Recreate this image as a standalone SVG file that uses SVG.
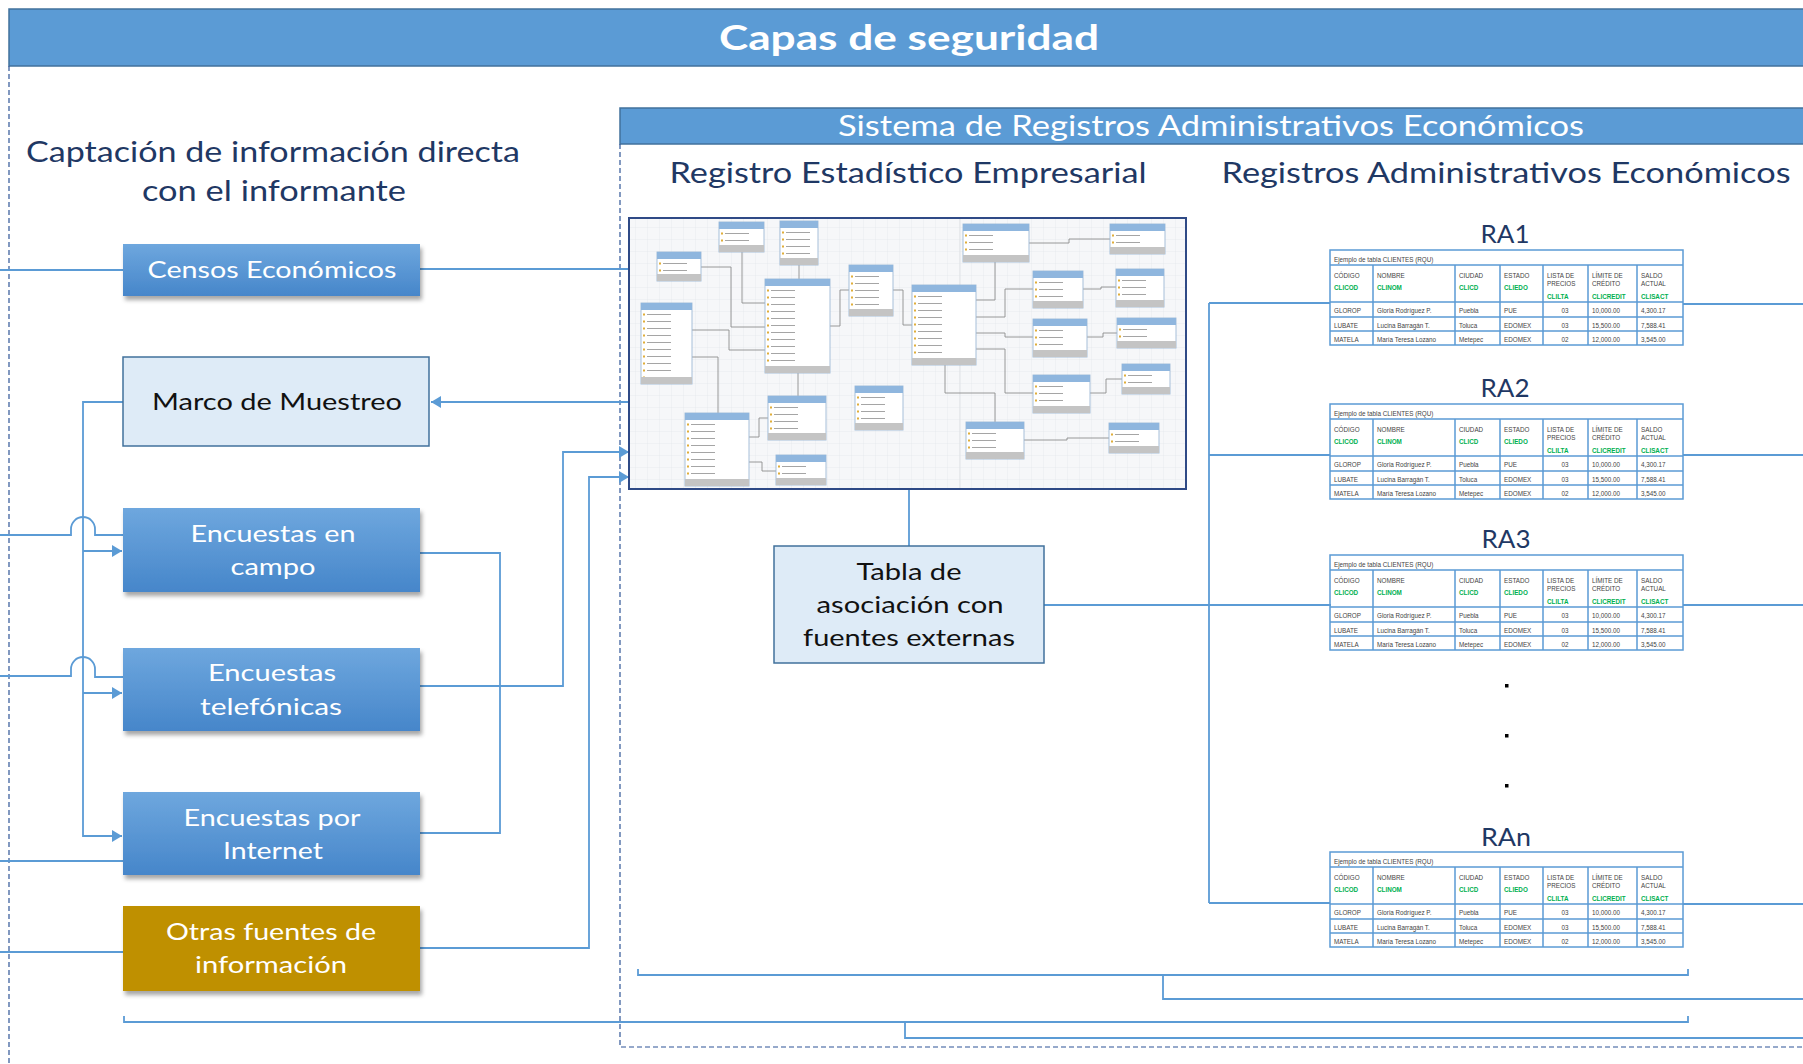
<svg xmlns="http://www.w3.org/2000/svg" xmlns:xlink="http://www.w3.org/1999/xlink" width="1803" height="1064" viewBox="0 0 1803 1064">
<defs>
<style>
.t{font-family:Lato,"Open Sans","Liberation Sans",sans-serif}
.head{fill:#1F3864;font-size:28px}
.wt{fill:#fff;font-size:23px;text-anchor:middle}
.bk{fill:#111;font-size:24px;text-anchor:middle}
.ra{fill:#1F3864;font-size:25px;text-anchor:middle}
.con{fill:none;stroke:#5B9BD5;stroke-width:1.8}
.blue{fill:url(#gb);filter:url(#sh)}
.light{fill:#DEEBF7;stroke:#41719C;stroke-width:1.5}
.erb{fill:#fff;stroke:#9DB8D6;stroke-width:0.9}
.erh{fill:#8FB6DE}
.erf{fill:#C4C4C4}
.rel{fill:none;stroke:#8C8C8C;stroke-width:0.9}
.tb{fill:none;stroke:#5B9BD5;stroke-width:1.5}
.tt{font-family:"Liberation Sans",Arial,sans-serif;font-size:6.3px;fill:#444}
.tg{font-family:"Liberation Sans",Arial,sans-serif;font-size:6.3px;fill:#00B050;font-weight:bold}
</style>
<linearGradient id="gb" x1="0" y1="0" x2="0" y2="1">
<stop offset="0" stop-color="#6EA7DE"/>
<stop offset="1" stop-color="#4686CA"/>
</linearGradient>
<filter id="sh" x="-10%" y="-10%" width="125%" height="140%">
<feDropShadow dx="2" dy="4" stdDeviation="2" flood-color="#000" flood-opacity="0.35"/>
</filter>
<marker id="arr" markerUnits="userSpaceOnUse" markerWidth="11" markerHeight="12" refX="10" refY="6" orient="auto">
<path d="M0,0 L10,6 L0,12 z" fill="#5B9BD5"/>
</marker>
<pattern id="grid" patternUnits="userSpaceOnUse" width="12" height="12">
<path d="M12,0 V12 H0" fill="none" stroke="#E4E7EB" stroke-width="0.7"/>
</pattern>
<pattern id="rows" patternUnits="userSpaceOnUse" width="200" height="7" y="1">
<rect x="2" y="2.5" width="2" height="2" fill="#E0AE3A"/>
<line x1="6" y1="3.5" x2="30" y2="3.5" stroke="#A5A5A5" stroke-width="1"/>
</pattern>
<g id="tbl">
<rect class="tb" x="1330" y="250" width="353" height="95"/>
<path class="tb" d="M1330,265 H1683 M1330,302 H1683 M1330,317 H1683 M1330,331 H1683 M1373,265 V345 M1455,265 V345 M1500,265 V345 M1543,265 V345 M1588,265 V345 M1637,265 V345"/>
<text class="tt" x="1334" y="262">Ejemplo de tabla CLIENTES (RQU)</text>
<text class="tt" x="1334" y="278">CÓDIGO</text>
<text class="tt" x="1377" y="278">NOMBRE</text>
<text class="tt" x="1459" y="278">CIUDAD</text>
<text class="tt" x="1504" y="278">ESTADO</text>
<text class="tt" x="1547" y="278">LISTA DE</text>
<text class="tt" x="1547" y="286">PRECIOS</text>
<text class="tt" x="1592" y="278">LÍMITE DE</text>
<text class="tt" x="1592" y="286">CRÉDITO</text>
<text class="tt" x="1641" y="278">SALDO</text>
<text class="tt" x="1641" y="286">ACTUAL</text>
<text class="tg" x="1334" y="290">CLICOD</text>
<text class="tg" x="1377" y="290">CLINOM</text>
<text class="tg" x="1459" y="290">CLICD</text>
<text class="tg" x="1504" y="290">CLIEDO</text>
<text class="tg" x="1547" y="299">CLILTA</text>
<text class="tg" x="1592" y="299">CLICREDIT</text>
<text class="tg" x="1641" y="299">CLISACT</text>
<text class="tt" x="1334" y="313">GLOROP</text>
<text class="tt" x="1377" y="313">Gloria Rodríguez P.</text>
<text class="tt" x="1459" y="313">Puebla</text>
<text class="tt" x="1504" y="313">PUE</text>
<text class="tt" x="1565" y="313" text-anchor="middle">03</text>
<text class="tt" x="1592" y="313">10,000.00</text>
<text class="tt" x="1641" y="313">4,300.17</text>
<text class="tt" x="1334" y="328">LUBATE</text>
<text class="tt" x="1377" y="328">Lucina Barragán T.</text>
<text class="tt" x="1459" y="328">Toluca</text>
<text class="tt" x="1504" y="328">EDOMEX</text>
<text class="tt" x="1565" y="328" text-anchor="middle">03</text>
<text class="tt" x="1592" y="328">15,500.00</text>
<text class="tt" x="1641" y="328">7,588.41</text>
<text class="tt" x="1334" y="342">MATELA</text>
<text class="tt" x="1377" y="342">María Teresa Lozano</text>
<text class="tt" x="1459" y="342">Metepec</text>
<text class="tt" x="1504" y="342">EDOMEX</text>
<text class="tt" x="1565" y="342" text-anchor="middle">02</text>
<text class="tt" x="1592" y="342">12,000.00</text>
<text class="tt" x="1641" y="342">3,545.00</text>
</g>
</defs>

<rect width="1803" height="1064" fill="#fff"/>

<g id="frame">
<rect x="9" y="9" width="1800" height="57" fill="#5B9BD5" stroke="#41719C" stroke-width="1.5"/>
<text class="t" x="909" y="50" fill="#fff" font-size="35" font-weight="bold" text-anchor="middle" textLength="380" lengthAdjust="spacingAndGlyphs">Capas de seguridad</text>
<line x1="9" y1="66" x2="9" y2="1064" stroke="#2F5597" stroke-width="1.2" stroke-dasharray="5,3"/>
<rect x="620" y="108" width="1190" height="36" fill="#5B9BD5" stroke="#41719C" stroke-width="1.5"/>
<text class="t" x="1211" y="136" fill="#fff" font-size="28" text-anchor="middle" textLength="746" lengthAdjust="spacingAndGlyphs">Sistema de Registros Administrativos Económicos</text>
<path d="M620,144 V1047 H1803" fill="none" stroke="#2F5597" stroke-width="1.2" stroke-dasharray="5,3"/>
</g>

<g id="headings">
<text class="t head" x="273" y="162" text-anchor="middle" textLength="494" lengthAdjust="spacingAndGlyphs">Captación de información directa</text>
<text class="t head" x="274" y="201" text-anchor="middle" textLength="264" lengthAdjust="spacingAndGlyphs">con el informante</text>
<text class="t head" x="908" y="183" text-anchor="middle" textLength="477" lengthAdjust="spacingAndGlyphs">Registro Estadístico Empresarial</text>
<text class="t head" x="1506" y="183" text-anchor="middle" textLength="569" lengthAdjust="spacingAndGlyphs">Registros Administrativos Económicos</text>
</g>

<g id="connectors">
<path class="con" d="M0,270 H123"/>
<path class="con" d="M420,269 H634"/>
<path class="con" d="M630,402 H431" marker-end="url(#arr)"/>
<path class="con" d="M123,402 H83 V836 H122" marker-end="url(#arr)"/>
<path class="con" d="M83,551 H122" marker-end="url(#arr)"/>
<path class="con" d="M83,693 H122" marker-end="url(#arr)"/>
<path class="con" d="M0,535 H71 V529 A12,12 0 0 1 95,529 V535 H123"/>
<path class="con" d="M0,676 H71 V669 A12,12 0 0 1 95,669 V677 H123"/>
<path class="con" d="M0,861 H123"/>
<path class="con" d="M0,952 H123"/>
<path class="con" d="M420,553 H500 V833 H420"/>
<path class="con" d="M420,686 H563 V452 H629" marker-end="url(#arr)"/>
<path class="con" d="M420,948 H589 V477 H629" marker-end="url(#arr)"/>
<path class="con" d="M909,489 V546"/>
<path class="con" d="M1044,605 H1331"/>
<path class="con" d="M1209,303 V903"/>
<path class="con" d="M1209,303 H1330"/>
<path class="con" d="M1209,455 H1330"/>
<path class="con" d="M1209,903 H1330"/>
<path class="con" d="M1683,304 H1803"/>
<path class="con" d="M1683,455 H1803"/>
<path class="con" d="M1683,605 H1803"/>
<path class="con" d="M1683,904 H1803"/>
<path class="con" d="M638,969 V975 H1688 V969"/>
<path class="con" d="M1163,975 V999 H1803"/>
<path class="con" d="M124,1016 V1022 H1688 V1016"/>
<path class="con" d="M905,1022 V1038 H1803"/>
</g>

<g id="censos">
<rect class="blue" x="123" y="244" width="297" height="52"/>
<text class="t wt" x="272" y="278" textLength="249" lengthAdjust="spacingAndGlyphs">Censos Económicos</text>
</g>
<g id="marco">
<rect class="light" x="123" y="357" width="306" height="89"/>
<text class="t bk" x="277" y="410" textLength="250" lengthAdjust="spacingAndGlyphs">Marco de Muestreo</text>
</g>
<g id="campo">
<rect class="blue" x="123" y="508" width="297" height="84"/>
<text class="t wt" x="273" y="542" textLength="165" lengthAdjust="spacingAndGlyphs">Encuestas en</text>
<text class="t wt" x="273" y="575" textLength="85" lengthAdjust="spacingAndGlyphs">campo</text>
</g>
<g id="telefonicas">
<rect class="blue" x="123" y="648" width="297" height="83"/>
<text class="t wt" x="272" y="681" textLength="128" lengthAdjust="spacingAndGlyphs">Encuestas</text>
<text class="t wt" x="271" y="715" textLength="142" lengthAdjust="spacingAndGlyphs">telefónicas</text>
</g>
<g id="internet">
<rect class="blue" x="123" y="792" width="297" height="83"/>
<text class="t wt" x="272" y="826" textLength="177" lengthAdjust="spacingAndGlyphs">Encuestas por</text>
<text class="t wt" x="273" y="859" textLength="100" lengthAdjust="spacingAndGlyphs">Internet</text>
</g>
<g id="otras">
<rect x="123" y="906" width="297" height="85" fill="#BF9000" filter="url(#sh)"/>
<text class="t wt" x="271" y="940" textLength="210" lengthAdjust="spacingAndGlyphs">Otras fuentes de</text>
<text class="t wt" x="271" y="973" textLength="152" lengthAdjust="spacingAndGlyphs">información</text>
</g>

<g id="er-diagrama">
<rect x="629" y="218" width="557" height="271" fill="#F6F7F9"/>
<rect x="629" y="218" width="557" height="271" fill="url(#grid)"/>
<line x1="960" y1="219" x2="960" y2="488" stroke="#E0E3E7" stroke-width="1"/>
<g class="rels">
<path class="rel" d="M701,267 H731 V327 H765"/>
<path class="rel" d="M742,252 V303 H765"/>
<path class="rel" d="M799,265 V279"/>
<path class="rel" d="M692,330 H729 V350 H765"/>
<path class="rel" d="M692,357 H718 V413"/>
<path class="rel" d="M830,326 H840 V290 H849"/>
<path class="rel" d="M893,290 H903 V325 H912"/>
<path class="rel" d="M798,373 V396"/>
<path class="rel" d="M749,437 H759 V418 H768"/>
<path class="rel" d="M749,462 H762 V471 H776"/>
<path class="rel" d="M976,300 H995 V262"/>
<path class="rel" d="M976,317 H1005 V289 H1033"/>
<path class="rel" d="M976,333 H1005 V337 H1033"/>
<path class="rel" d="M976,349 H1005 V393 H1033"/>
<path class="rel" d="M945,365 V393 H995 V422"/>
<path class="rel" d="M1029,243 H1069 V239 H1110"/>
<path class="rel" d="M1083,289 H1101 V287 H1116"/>
<path class="rel" d="M1087,337 H1103 V333 H1117"/>
<path class="rel" d="M1090,393 H1106 V379 H1122"/>
<path class="rel" d="M1024,440 H1067 V438 H1109"/>
</g>
<g transform="translate(719,222)"><rect class="erb" width="45" height="30"/><rect class="erh" width="45" height="7"/><rect fill="url(#rows)" y="8" width="45" height="15"/><rect class="erf" y="23" width="45" height="7"/></g>
<g transform="translate(780,221)"><rect class="erb" width="38" height="44"/><rect class="erh" width="38" height="7"/><rect fill="url(#rows)" y="8" width="38" height="29"/><rect class="erf" y="37" width="38" height="7"/></g>
<g transform="translate(657,252)"><rect class="erb" width="44" height="29"/><rect class="erh" width="44" height="7"/><rect fill="url(#rows)" y="8" width="44" height="14"/><rect class="erf" y="22" width="44" height="7"/></g>
<g transform="translate(765,279)"><rect class="erb" width="65" height="94"/><rect class="erh" width="65" height="7"/><rect fill="url(#rows)" y="8" width="65" height="79"/><rect class="erf" y="87" width="65" height="7"/></g>
<g transform="translate(849,265)"><rect class="erb" width="44" height="51"/><rect class="erh" width="44" height="7"/><rect fill="url(#rows)" y="8" width="44" height="36"/><rect class="erf" y="44" width="44" height="7"/></g>
<g transform="translate(641,303)"><rect class="erb" width="51" height="81"/><rect class="erh" width="51" height="7"/><rect fill="url(#rows)" y="8" width="51" height="66"/><rect class="erf" y="74" width="51" height="7"/></g>
<g transform="translate(912,285)"><rect class="erb" width="64" height="80"/><rect class="erh" width="64" height="7"/><rect fill="url(#rows)" y="8" width="64" height="65"/><rect class="erf" y="73" width="64" height="7"/></g>
<g transform="translate(963,224)"><rect class="erb" width="66" height="38"/><rect class="erh" width="66" height="7"/><rect fill="url(#rows)" y="8" width="66" height="23"/><rect class="erf" y="31" width="66" height="7"/></g>
<g transform="translate(1110,224)"><rect class="erb" width="55" height="30"/><rect class="erh" width="55" height="7"/><rect fill="url(#rows)" y="8" width="55" height="15"/><rect class="erf" y="23" width="55" height="7"/></g>
<g transform="translate(1033,271)"><rect class="erb" width="50" height="37"/><rect class="erh" width="50" height="7"/><rect fill="url(#rows)" y="8" width="50" height="22"/><rect class="erf" y="30" width="50" height="7"/></g>
<g transform="translate(1116,269)"><rect class="erb" width="48" height="38"/><rect class="erh" width="48" height="7"/><rect fill="url(#rows)" y="8" width="48" height="23"/><rect class="erf" y="31" width="48" height="7"/></g>
<g transform="translate(1033,319)"><rect class="erb" width="54" height="38"/><rect class="erh" width="54" height="7"/><rect fill="url(#rows)" y="8" width="54" height="23"/><rect class="erf" y="31" width="54" height="7"/></g>
<g transform="translate(1117,318)"><rect class="erb" width="59" height="30"/><rect class="erh" width="59" height="7"/><rect fill="url(#rows)" y="8" width="59" height="15"/><rect class="erf" y="23" width="59" height="7"/></g>
<g transform="translate(1122,364)"><rect class="erb" width="48" height="30"/><rect class="erh" width="48" height="7"/><rect fill="url(#rows)" y="8" width="48" height="15"/><rect class="erf" y="23" width="48" height="7"/></g>
<g transform="translate(1033,375)"><rect class="erb" width="57" height="38"/><rect class="erh" width="57" height="7"/><rect fill="url(#rows)" y="8" width="57" height="23"/><rect class="erf" y="31" width="57" height="7"/></g>
<g transform="translate(1109,423)"><rect class="erb" width="50" height="30"/><rect class="erh" width="50" height="7"/><rect fill="url(#rows)" y="8" width="50" height="15"/><rect class="erf" y="23" width="50" height="7"/></g>
<g transform="translate(966,422)"><rect class="erb" width="58" height="37"/><rect class="erh" width="58" height="7"/><rect fill="url(#rows)" y="8" width="58" height="22"/><rect class="erf" y="30" width="58" height="7"/></g>
<g transform="translate(855,386)"><rect class="erb" width="48" height="44"/><rect class="erh" width="48" height="7"/><rect fill="url(#rows)" y="8" width="48" height="29"/><rect class="erf" y="37" width="48" height="7"/></g>
<g transform="translate(768,396)"><rect class="erb" width="58" height="44"/><rect class="erh" width="58" height="7"/><rect fill="url(#rows)" y="8" width="58" height="29"/><rect class="erf" y="37" width="58" height="7"/></g>
<g transform="translate(685,413)"><rect class="erb" width="64" height="73"/><rect class="erh" width="64" height="7"/><rect fill="url(#rows)" y="8" width="64" height="58"/><rect class="erf" y="66" width="64" height="7"/></g>
<g transform="translate(776,455)"><rect class="erb" width="50" height="30"/><rect class="erh" width="50" height="7"/><rect fill="url(#rows)" y="8" width="50" height="15"/><rect class="erf" y="23" width="50" height="7"/></g>
<rect x="629" y="218" width="557" height="271" fill="none" stroke="#2F4A86" stroke-width="2"/>
</g>

<g id="tabla-asociacion">
<rect class="light" x="774" y="546" width="270" height="117"/>
<text class="t bk" x="909" y="580" textLength="105" lengthAdjust="spacingAndGlyphs">Tabla de</text>
<text class="t bk" x="910" y="613" textLength="187" lengthAdjust="spacingAndGlyphs">asociación con</text>
<text class="t bk" x="909" y="646" textLength="212" lengthAdjust="spacingAndGlyphs">fuentes externas</text>
</g>

<g id="ra1">
<text class="t ra" x="1505" y="243" textLength="49" lengthAdjust="spacingAndGlyphs">RA1</text>
<use xlink:href="#tbl" href="#tbl"/>
</g>
<g id="ra2">
<text class="t ra" x="1505" y="397" textLength="49" lengthAdjust="spacingAndGlyphs">RA2</text>
<use xlink:href="#tbl" href="#tbl" y="154"/>
</g>
<g id="ra3">
<text class="t ra" x="1506" y="548" textLength="49" lengthAdjust="spacingAndGlyphs">RA3</text>
<use xlink:href="#tbl" href="#tbl" y="305"/>
</g>
<g id="dots">
<rect x="1505" y="684" width="3.5" height="3.5" fill="#000"/>
<rect x="1505" y="734" width="3.5" height="3.5" fill="#000"/>
<rect x="1505" y="784" width="3.5" height="3.5" fill="#000"/>
</g>
<g id="ran">
<text class="t ra" x="1506" y="846" textLength="50" lengthAdjust="spacingAndGlyphs">RAn</text>
<use xlink:href="#tbl" href="#tbl" y="602"/>
</g>
</svg>
